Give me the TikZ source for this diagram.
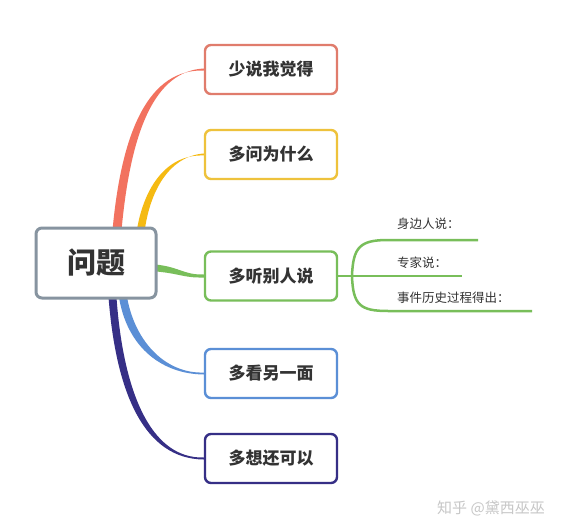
\documentclass[tikz,border=0pt]{standalone}
\usepackage{fontspec}
\newfontfamily\cjk{Noto Sans CJK SC}
\usetikzlibrary{calc,backgrounds}
\definecolor{cRed}{HTML}{F2725F}
\definecolor{cRedBox}{HTML}{E07C6C}
\definecolor{cYel}{HTML}{F5BA12}
\definecolor{cYelBox}{HTML}{EEC23C}
\definecolor{cGrn}{HTML}{78BE5A}
\definecolor{cBlu}{HTML}{5B8FD6}
\definecolor{cPur}{HTML}{362F86}
\definecolor{cRoot}{HTML}{8794A0}
\definecolor{cText}{HTML}{333333}
\tikzset{
	topic/.style={draw, line width=2.4pt, rounded corners=6pt, fill=white,
		minimum width=132pt, minimum height=49pt, inner sep=0pt,
		text=cText, font=\cjk\bfseries\fontsize{17}{20}\selectfont},
	leaf/.style={anchor=base west, inner sep=0pt, text=cText,
		font=\cjk\fontsize{12.5}{15}\selectfont},
	twig/.style={cGrn, line width=2.5pt}
}
\begin{document}
\begin{tikzpicture}[x=1pt, y=-1pt]
	\useasboundingbox (0,0) rectangle (568,532);
	% boxes
	\node[topic, draw=cRoot, line width=3pt, minimum width=120pt, minimum height=70pt,
		font=\cjk\bfseries\fontsize{29}{34}\selectfont] (root) at (96,263) {问题};
	\node[topic, draw=cRedBox] (b1) at (271,69.5) {少说我觉得};
	\node[topic, draw=cYelBox] (b2) at (271,154.5) {多问为什么};
	\node[topic, draw=cGrn] (b3) at (271,276) {多听别人说};
	\node[topic, draw=cBlu] (b4) at (271,373.5) {多看另一面};
	\node[topic, draw=cPur] (b5) at (271,458.5) {多想还可以};
	% branches, tapering towards the boxes
	\begin{scope}[on background layer]
		\fill[white] (0,0) rectangle (568,532);
		\fill[cRed] (112,236) .. controls (121,128) and (150,69) .. ($(b1.west)+(0,1)$)
			-- ($(b1.west)+(0,-1)$) .. controls (155,71) and (130,130) .. (121,236) -- cycle;
		\fill[cYel] (136,236) .. controls (142,190) and (165,154) .. ($(b2.west)+(0,1)$)
			-- ($(b2.west)+(0,-1)$) .. controls (170,156) and (149,190) .. (144,236) -- cycle;
		\fill[cGrn] (150,264) .. controls (180,266) and (182,275) .. ($(b3.west)+(0,-1.5)$)
			-- ($(b3.west)+(0,1.5)$) .. controls (182,278) and (180,273) .. (150,271) -- cycle;
		\fill[cBlu] (126,290) .. controls (132,340) and (165,374) .. ($(b4.west)+(0,-1)$)
			-- ($(b4.west)+(0,1)$) .. controls (160,374) and (124,345) .. (118,290) -- cycle;
		\fill[cPur] (116,290) .. controls (122,390) and (150,459) .. ($(b5.west)+(0,-1)$)
			-- ($(b5.west)+(0,1)$) .. controls (145,459) and (115,395) .. (108,290) -- cycle;
	\end{scope}
	% sub-branches
	\coordinate (split) at (352,276);
	\coordinate (e1) at (478,240);
	\coordinate (e2) at (462,276);
	\coordinate (e3) at (532,311);
	\draw[twig] (b3.east) -- (e2);
	\draw[twig] (split) .. controls (353,247) and (360,240) .. (388,240) -- (e1);
	\draw[twig] (split) .. controls (353,305) and (360,311) .. (388,311) -- (e3);
	\node[leaf] (l1) at (397,229) {身边人说：};
	\node[leaf] (l2) at (397,267) {专家说：};
	\node[leaf] (l3) at (397,302) {事件历史过程得出：};
	% watermark
	\node[text=black!22, font=\cjk\fontsize{15}{18}\selectfont] (mark) at (491,508) {知乎 @黛西巫巫};
\end{tikzpicture}
\end{document}
